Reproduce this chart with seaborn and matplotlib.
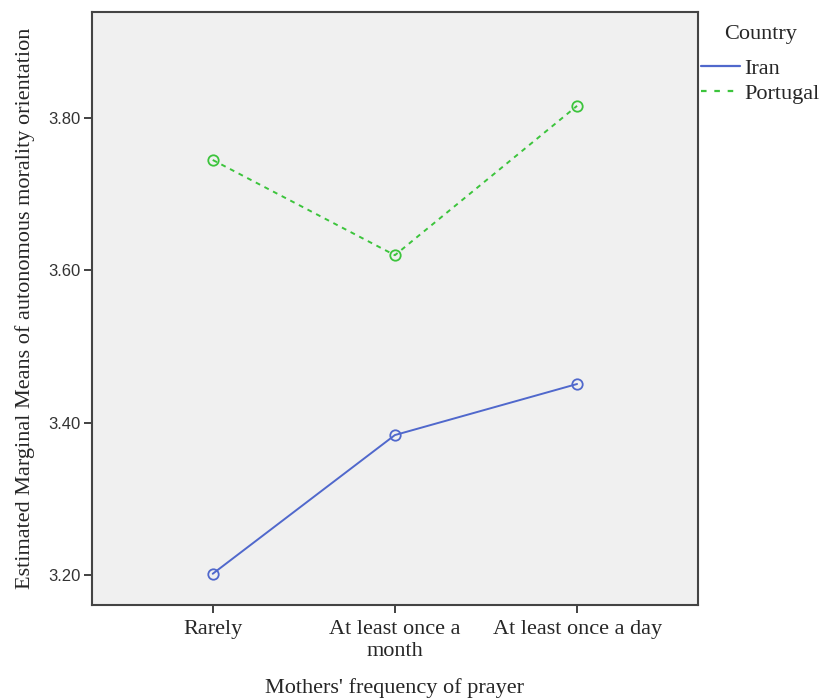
import matplotlib
matplotlib.use("Agg")
import matplotlib.pyplot as plt
import seaborn as sns
import pandas as pd
from matplotlib.lines import Line2D

categories = ["Rarely", "At least once a\nmonth", "At least once a day"]
iran = [3.202, 3.384, 3.451]
portugal = [3.745, 3.620, 3.816]
countries = ["Iran", "Portugal"]
yticks = [3.20, 3.40, 3.60, 3.80]

rows = []
for c, vals in zip(countries, [iran, portugal]):
    for i, v in enumerate(vals):
        rows.append({"x": i, "y": v, "Country": c})
df = pd.DataFrame(rows)

sns.set_style("white")
plt.rcParams['font.family'] = ['Liberation Serif', 'DejaVu Serif']

colors = {"Iran": "#5068cc", "Portugal": "#3cc43c"}
fig = plt.figure(figsize=(8.21, 7.0), dpi=100)
ax = fig.add_axes([0.112, 0.1357, 0.738, 0.847])
ax.set_facecolor("#f0f0f0")

sns.lineplot(data=df, x="x", y="y", hue="Country", style="Country",
             palette=colors, dashes={"Iran": "", "Portugal": (2.5, 2.5)},
             markers={"Iran": "o", "Portugal": "o"}, markersize=7.5,
             linewidth=1.4, ax=ax, legend=False)
for ln in ax.lines:
    ln.set_markerfacecolor("none")
    ln.set_markeredgecolor(ln.get_color())
    ln.set_markeredgewidth(1.3)

ax.set_xlim(-0.663, 2.663)
ax.set_ylim(3.161, 3.939)
ax.set_xticks(range(len(categories)))
ax.set_xticklabels(categories, fontsize=16, linespacing=1.2)
ax.set_yticks(yticks)
ax.set_yticklabels([f"{t:.2f}" for t in yticks], fontsize=12,
                   family=['Liberation Sans', 'DejaVu Sans'], color="#333333")
ax.tick_params(axis="both", direction="out", length=6, width=1.3,
               color="#333333", left=True, bottom=True, pad=2)
ax.tick_params(axis="x", pad=5)
for s in ax.spines.values():
    s.set_color("#444444")
    s.set_linewidth(1.5)

ax.set_xlabel("Mothers' frequency of prayer", fontsize=16, labelpad=12)
ax.set_ylabel("Estimated Marginal Means of autonomous morality orientation",
              fontsize=16, labelpad=10)

fig.text(761 / 821, 1 - 34 / 700, "Country", ha="center", va="center", fontsize=16)
handles = [Line2D([0], [0], color=colors["Iran"], lw=1.6),
           Line2D([0], [0], color=colors["Portugal"], lw=1.6, ls=(0, (2.5, 3.5)))]
leg = fig.legend(handles, countries, loc="upper left",
                 bbox_to_anchor=(701 / 821, 1 - 58 / 700), frameon=False, fontsize=16,
                 handlelength=1.75, handletextpad=0.2, borderpad=0,
                 borderaxespad=0, labelspacing=0.2)

fig.savefig("out.png", dpi=100)
